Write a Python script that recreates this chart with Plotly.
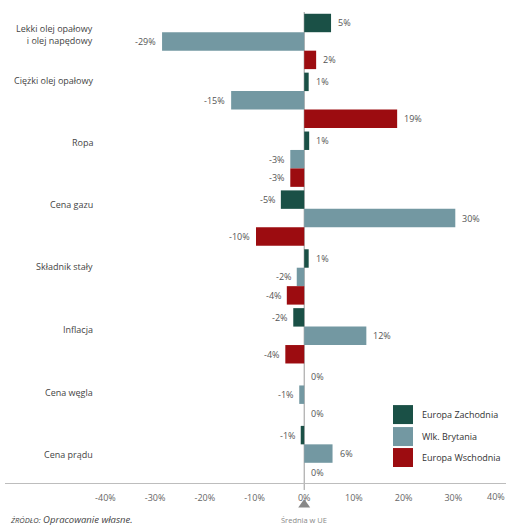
import plotly.graph_objects as go

categories = ["Lekki olej opałowy<br>i olej napędowy", "Ciężki olej opałowy", "Ropa", "Cena gazu",
              "Składnik stały", "Inflacja", "Cena węgla", "Cena prądu"]
series_names = ["Europa Zachodnia", "Wlk. Brytania", "Europa Wschodnia"]
west_values = [5.4, 0.9, 1.0, -4.7, 0.9, -2.2, 0.0, -0.7]
uk_values = [-28.6, -14.7, -2.8, 30.4, -1.5, 12.5, -1.0, 5.7]
east_values = [2.4, 18.7, -2.8, -9.7, -3.5, -3.8, 0.0, 0.0]
west_labels = [5, 1, 1, -5, 1, -2, 0, -1]
uk_labels = [-29, -15, -3, 30, -2, 12, -1, 6]
east_labels = [2, 19, -3, -10, -4, -4, 0, 0]
tick_values = [-40, -30, -20, -10, 0, 10, 20, 30]
last_tick = 40

colors = ["#1a5046", "#7398a2", "#9c0c10"]
W, H = 508, 526
ML, MR, MT, MB = 5, 2, 11.5, 43
PW, PH = W - ML - MR, H - MT - MB
X_RANGE = [-60.2, 40.6]
BARGAP = 0.06
FONT = "Open Sans"


def px2x(px):
    return (px - ML) / PW


def px2y(py):
    return (H - MB - py) / PH


values = [west_values, uk_values, east_values]
labels = [west_labels, uk_labels, east_labels]
ypos = list(range(len(categories)))

fig = go.Figure()
for name, vals, col in zip(series_names, values, colors):
    fig.add_trace(go.Bar(y=ypos, x=vals, orientation="h", name=name,
                         marker=dict(color=col, line=dict(width=0)), showlegend=False))

annotations = []
slot = (1 - BARGAP) / 3
for k, (vals, labs) in enumerate(zip(values, labels)):
    for i, (v, lab) in enumerate(zip(vals, labs)):
        pos = v >= 0 and lab >= 0
        annotations.append(dict(
            x=v, y=i + (k - 1) * slot, xref="x", yref="y", text=f"{lab}%",
            showarrow=False, xanchor="left" if pos else "right", yanchor="middle",
            xshift=5 if pos else -4, font=dict(family=FONT, size=9, color="#555")))

label_shift = [7, 20, 17, 14, 10, 6.5, 2, -1]
for i, (cat, sh) in enumerate(zip(categories, label_shift)):
    annotations.append(dict(
        x=px2x(95), y=i, xref="paper", yref="y", text=cat, showarrow=False,
        xanchor="right", yanchor="middle", yshift=sh, align="right",
        font=dict(family=FONT, size=9, color="#444")))

# legend
leg_rows = [414.5, 436.5, 457.5]
shapes = []
for name, col, cy in zip(series_names, colors, leg_rows):
    shapes.append(dict(type="rect", xref="paper", yref="paper",
                       x0=px2x(393), x1=px2x(413), y0=px2y(cy - 9.5), y1=px2y(cy + 9.5),
                       fillcolor=col, line=dict(width=0)))
    annotations.append(dict(x=px2x(420), y=px2y(cy), xref="paper", yref="paper", text=name,
                            showarrow=False, xanchor="left", yanchor="middle",
                            font=dict(family=FONT, size=9, color="#333")))

# last tick label kept inside the page edge
annotations.append(dict(x=px2x(W - 1), y=px2y(497), xref="paper", yref="paper",
                        text=f"{last_tick}%", showarrow=False, xanchor="right", yanchor="middle",
                        font=dict(family=FONT, size=9, color="#666")))

# zero line, triangle marker
shapes.append(dict(type="line", xref="x", yref="paper", x0=0, x1=0, y0=px2y(490), y1=1,
                   line=dict(color="#9a9a9a", width=1), layer="below"))
shapes.append(dict(type="path", xref="x", yref="paper",
                   path=f"M -1.2,{px2y(507.5)} L 1.2,{px2y(507.5)} L 0,{px2y(499)} Z",
                   fillcolor="#888", line=dict(width=0)))
annotations.append(dict(x=0, y=px2y(520), xref="x", yref="paper", text="Średnia w UE",
                        showarrow=False, xanchor="center", yanchor="middle",
                        font=dict(family=FONT, size=7.5, color="#888")))
annotations.append(dict(x=px2x(8), y=px2y(520), xref="paper", yref="paper",
                        text="<i><span style='font-size:7.5px'>ŹRÓDŁO:</span> Opracowanie własne.</i>",
                        showarrow=False, xanchor="left", yanchor="middle",
                        font=dict(family=FONT, size=9.5, color="#444")))

fig.update_layout(
    width=W, height=H, margin=dict(l=ML, r=MR, t=MT, b=MB, pad=0, autoexpand=False),
    paper_bgcolor="white", plot_bgcolor="white",
    barmode="group", bargap=BARGAP, bargroupgap=0,
    showlegend=False, annotations=annotations, shapes=shapes,
    xaxis=dict(range=X_RANGE, tickvals=tick_values, ticktext=[f"{t}%" for t in tick_values],
               showgrid=False, zeroline=False, showline=True, linecolor="#bdbdbd", linewidth=1,
               ticks="outside", ticklen=6, tickcolor="rgba(0,0,0,0)", ticklabeloverflow="allow",
               automargin=False,
               tickfont=dict(family=FONT, size=9, color="#666"), fixedrange=True),
    yaxis=dict(range=[len(categories) - 0.5, -0.5], showticklabels=False, showgrid=False,
               zeroline=False, showline=False, fixedrange=True, automargin=False),
)

fig.write_html("out.html", config={"displayModeBar": False},
               post_script="document.body.style.margin='0';document.body.style.overflow='hidden';")
